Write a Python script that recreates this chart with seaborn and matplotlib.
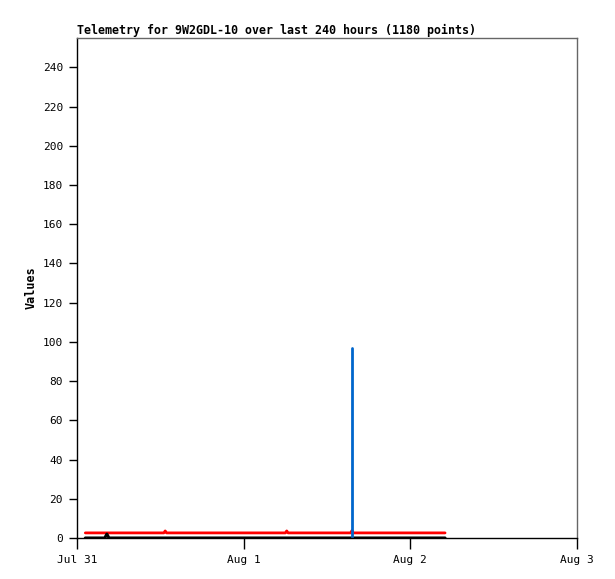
import numpy as np
import pandas as pd
import seaborn as sns
import matplotlib
matplotlib.use("Agg")
import matplotlib.pyplot as plt

# ==========================================================
# Dados (horas desde Jul 31 00:00)
# ==========================================================
black_hours = [1.2, 4.0, 4.3, 4.6, 53.0]
black_vals = [0, 0, 2, 0, 0]

red_hours = [1.2, 12.5, 12.7, 12.9, 30.0, 30.2, 30.4, 39.4, 39.6, 39.8, 53.0]
red_vals = [2.6, 2.6, 3.6, 2.6, 2.6, 3.6, 2.6, 2.6, 3.8, 2.6, 2.6]

blue_hours = [39.6, 39.6]
blue_vals = [0, 97]

tick_days = [0, 1, 2, 3]
tick_labels = ["Jul 31", "Aug 1", "Aug 2", "Aug 3"]
y_ticks = list(range(0, 241, 20))

start = pd.Timestamp("2021-07-31")


def to_df(hours, vals):
    return pd.DataFrame({"t": start + pd.to_timedelta(hours, unit="h"), "v": vals})


sns.set_style("white")
plt.rcParams["font.family"] = ["DejaVu Sans Mono"]
plt.rcParams["text.color"] = "black"
plt.rcParams["axes.labelcolor"] = "black"
plt.rcParams["xtick.color"] = "black"
plt.rcParams["ytick.color"] = "black"

fig = plt.figure(figsize=(6.15, 5.79), dpi=100)
ax = fig.add_axes([77 / 615, 41 / 579, 500 / 615, 500 / 579])

sns.lineplot(data=to_df(red_hours, red_vals), x="t", y="v", color="#ff0000",
             linewidth=2, estimator=None, sort=False, ax=ax)
sns.lineplot(data=to_df(black_hours, black_vals), x="t", y="v", color="black",
             linewidth=2.2, estimator=None, sort=False, ax=ax)
sns.lineplot(data=to_df(blue_hours, blue_vals), x="t", y="v", color="#0066cc",
             linewidth=2, estimator=None, sort=False, ax=ax)

ax.set_xlim(start, start + pd.Timedelta(days=3))
ax.set_ylim(0, 255)
ax.set_xticks([start + pd.Timedelta(days=d) for d in tick_days])
ax.set_xticklabels(tick_labels, fontsize=8)
ax.set_yticks(y_ticks)
ax.set_yticklabels([str(v) for v in y_ticks], fontsize=8)
ax.tick_params(axis="x", direction="out", length=8, width=1, pad=4)
ax.tick_params(axis="y", direction="out", length=6, width=1, pad=4)
ax.xaxis.set_tick_params(bottom=True)
ax.yaxis.set_tick_params(left=True)

for side in ["top", "right"]:
    ax.spines[side].set_color("#666666")
    ax.spines[side].set_linewidth(1)
for side in ["left", "bottom"]:
    ax.spines[side].set_color("black")
    ax.spines[side].set_linewidth(1)

ax.set_xlabel("")
ax.set_ylabel("Values", fontsize=8.5, fontweight="bold")
ax.set_title("Telemetry for 9W2GDL-10 over last 240 hours (1180 points)",
             loc="left", fontsize=8.4, fontweight="bold", pad=3)

fig.savefig("out.png", dpi=100)
